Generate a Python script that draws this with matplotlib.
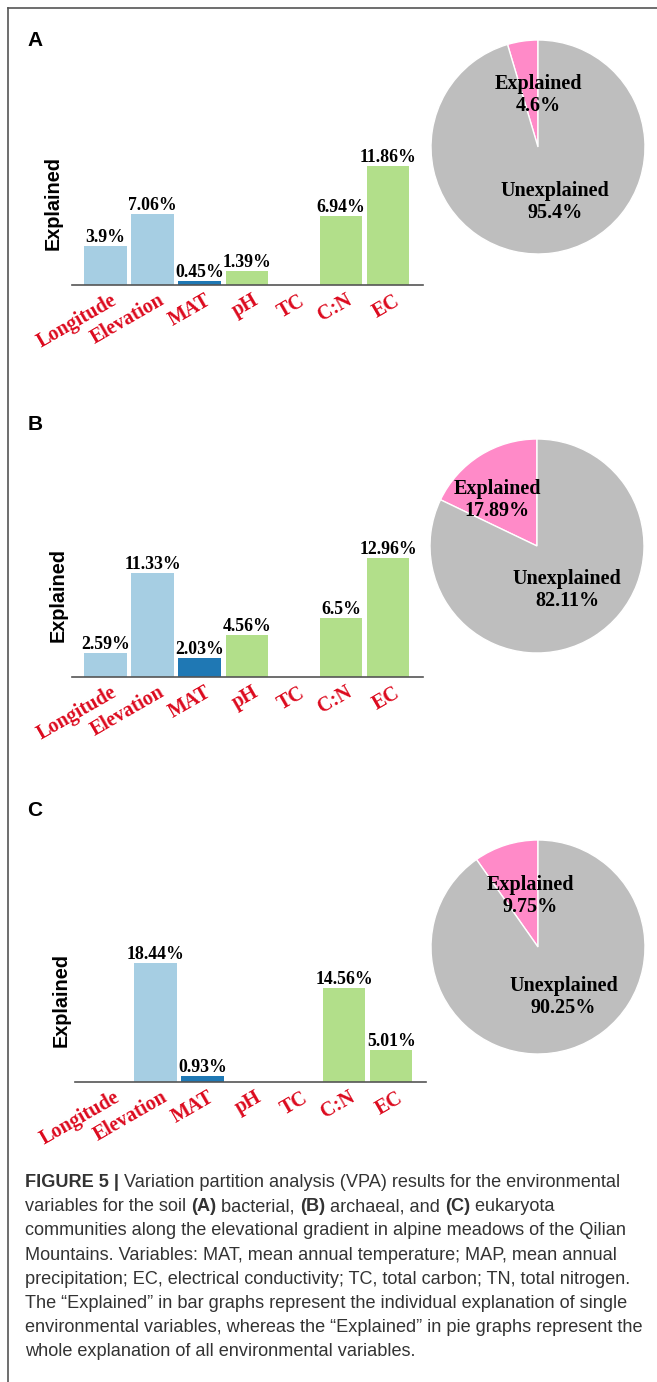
import matplotlib
matplotlib.use("Agg")
import matplotlib.pyplot as plt
from matplotlib.font_manager import FontProperties
from matplotlib.lines import Line2D
from matplotlib.transforms import ScaledTranslation

W, H = 657, 1382

variables = ["Longitude", "Elevation", "MAT", "pH", "TC", "C:N", "EC"]
bar_colors = ["#A6CEE3", "#A6CEE3", "#1F78B4", "#B2DF8A", "#B2DF8A", "#B2DF8A", "#B2DF8A"]

# individual explanation (%) of each variable; None = not retained
bacteria = [3.9, 7.06, 0.45, 1.39, None, 6.94, 11.86]
archaea = [2.59, 11.33, 2.03, 4.56, None, 6.5, 12.96]
eukaryota = [None, 18.44, 0.93, None, None, 14.56, 5.01]

pie_explained = [4.6, 17.89, 9.75]
pie_unexplained = [95.4, 82.11, 90.25]

panel_letters = ["A", "B", "C"]

PINK = "#FF8AC8"
GREY = "#BEBEBE"
RED = "#DC0A1E"
SERIF = "Liberation Serif"
SANS = "Liberation Sans"

# layout in pixels
baselines = [285, 677, 1082]
axis_left = [72, 72, 75]
axis_width = 351
axis_height = 160
ylabel_x = [53, 58, 61]
letter_pos = [(35, 41), (35, 425), (35, 810)]
pie_centers = [(538, 147), (537, 546), (538, 947)]
pie_r = 107
# label block centres in units of the pie radius
explained_xy = [(0.0, 0.49), (-0.37, 0.43), (-0.07, 0.48)]
unexplained_xy = [(0.16, -0.51), (0.28, -0.41), (0.24, -0.47)]


def box(left, top, width, height):
    return [left / W, 1 - (top + height) / H, width / W, height / H]


fig = plt.figure(figsize=(W / 100, H / 100), dpi=100)

# frame around the figure
fig.add_artist(Line2D([8 / W, 8 / W], [1 - 8 / H, 0], transform=fig.transFigure, color="#555555", lw=1.2))
fig.add_artist(Line2D([8 / W, 1], [1 - 8 / H, 1 - 8 / H], transform=fig.transFigure, color="#555555", lw=1.2))

for i, values in enumerate([bacteria, archaea, eukaryota]):
    ax = fig.add_axes(box(axis_left[i], baselines[i] - axis_height, axis_width, axis_height))
    pos = [k for k, v in enumerate(values) if v is not None]
    vals = [values[k] for k in pos]
    bars = ax.bar(pos, vals, width=0.9, color=[bar_colors[k] for k in pos])
    ax.bar_label(bars, labels=[f"{v}%" for v in vals], padding=0,
                 fontsize=12.8, fontweight="bold", family=SERIF)
    ax.set_xlim(-0.71, 6.74)
    ax.set_ylim(0, max(vals) * 1.35)
    ax.set_yticks([])
    for side in ["top", "right", "left"]:
        ax.spines[side].set_visible(False)
    ax.spines["bottom"].set_color("#555555")
    ax.spines["bottom"].set_linewidth(1.2)
    ax.set_xticks(range(len(variables)), variables)
    ax.tick_params(axis="x", length=0, pad=4)
    shift = ScaledTranslation(5 / 100, 0, fig.dpi_scale_trans)
    for lbl in ax.get_xticklabels():
        lbl.set(rotation=30, ha="right", va="top", rotation_mode="anchor",
                color=RED, fontsize=14.5, fontweight="bold", family=SERIF)
        lbl.set_transform(lbl.get_transform() + shift)

    fig.text(ylabel_x[i] / W, 1 - (baselines[i] - 82) / H, "Explained", rotation=90,
             ha="center", va="center", fontsize=14.3, fontweight="bold", family=SANS)
    lx, ly = letter_pos[i]
    fig.text(lx / W, 1 - ly / H, panel_letters[i], ha="center", va="center",
             fontsize=15, fontweight="bold", family=SANS)

    # pie of total explained vs unexplained
    cx, cy = pie_centers[i]
    pax = fig.add_axes(box(cx - pie_r, cy - pie_r, 2 * pie_r, 2 * pie_r))
    pax.pie([pie_explained[i], pie_unexplained[i]], colors=[PINK, GREY], startangle=90,
            counterclock=True, radius=1,
            wedgeprops=dict(edgecolor="white", linewidth=1))
    pax.set_xlim(-1, 1)
    pax.set_ylim(-1, 1)
    gap = 11 / pie_r
    for (bx, by), name, val in [(explained_xy[i], "Explained", pie_explained[i]),
                                (unexplained_xy[i], "Unexplained", pie_unexplained[i])]:
        pax.text(bx, by + gap, name, ha="center", va="center",
                 fontsize=14.5, fontweight="bold", family=SERIF)
        pax.text(bx, by - gap, f"{val}%", ha="center", va="center",
                 fontsize=14.5, fontweight="bold", family=SERIF)

# caption
caption = [
    [("FIGURE 5 |", True), (" Variation partition analysis (VPA) results for the environmental", False)],
    [("variables for the soil ", False), ("(A)", True), (" bacterial, ", False), ("(B)", True),
     (" archaeal, and ", False), ("(C)", True), (" eukaryota", False)],
    [("communities along the elevational gradient in alpine meadows of the Qilian", False)],
    [("Mountains. Variables: MAT, mean annual temperature; MAP, mean annual", False)],
    [("precipitation; EC, electrical conductivity; TC, total carbon; TN, total nitrogen.", False)],
    [("The \u201cExplained\u201d in bar graphs represent the individual explanation of single", False)],
    [("environmental variables, whereas the \u201cExplained\u201d in pie graphs represent the", False)],
    [("whole explanation of all environmental variables.", False)],
]

renderer = fig.canvas.get_renderer()


def advance(s, size, bold):
    prop = FontProperties(family=SANS, size=size, weight="bold" if bold else "normal")
    w1 = renderer.get_text_width_height_descent(s + "|", prop, ismath=False)[0]
    w2 = renderer.get_text_width_height_descent("|", prop, ismath=False)[0]
    return w1 - w2


# size the caption so the longest line spans the text block
cap_size = 10 * 607 / advance(caption[4][0][0], 10, False)
cap_y = 1187
for line in caption:
    x = 25
    for seg, bold in line:
        fig.text(x / W, 1 - cap_y / H, seg, ha="left", va="baseline", fontsize=cap_size,
                 fontweight="bold" if bold else "normal", family=SANS, color="#333333")
        x += advance(seg, cap_size, bold)
    cap_y += 24.2

fig.savefig("out.png", dpi=100)
